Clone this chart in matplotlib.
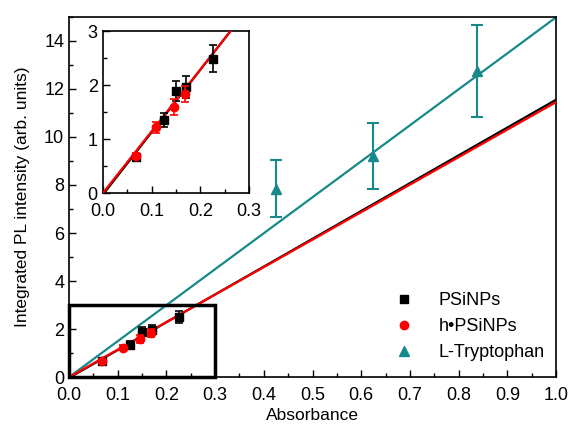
import numpy as np
import matplotlib
matplotlib.use("Agg")
import matplotlib.pyplot as plt
from matplotlib.patches import Rectangle
from matplotlib.ticker import MultipleLocator

plt.rcParams["font.family"] = ["Liberation Sans", "DejaVu Sans"]
plt.rcParams["font.size"] = 12

# PSiNPs (black squares)
psi_x = [0.068, 0.126, 0.150, 0.170, 0.226]
psi_y = [0.68, 1.355, 1.89, 1.97, 2.49]
psi_err = [0.05, 0.13, 0.18, 0.20, 0.25]

# h-PSiNPs (red circles)
hpsi_x = [0.068, 0.110, 0.145, 0.169]
hpsi_y = [0.69, 1.22, 1.59, 1.84]
hpsi_err = [0.05, 0.10, 0.15, 0.15]

# L-Tryptophan (teal triangles)
trp_x = [0.424, 0.625, 0.837]
trp_y = [7.85, 9.20, 12.75]
trp_err = [1.18, 1.38, 1.92]

# linear fits (slope, intercept)
fit_psi = (11.58, -0.03)
fit_hpsi = (11.45, 0.0)
fit_trp = (14.98, 0.0)

teal = "#168a8a"
red = "#ff0000"

fig = plt.figure(figsize=(5.68, 4.32), dpi=100)
ax = fig.add_axes([0.1215, 0.127, 0.8575, 0.834])


def draw(a, xmax, with_trp=True):
    xs = np.array([0.0, xmax])
    a.plot(xs, fit_psi[0] * xs + fit_psi[1], color="black", lw=1.6, zorder=2)
    a.plot(xs, fit_hpsi[0] * xs + fit_hpsi[1], color=red, lw=1.6, zorder=3)
    a.errorbar(psi_x, psi_y, yerr=psi_err, fmt="s", color="black", ms=5.5,
               capsize=3, elinewidth=1.2, capthick=1.2, zorder=4)
    a.errorbar(hpsi_x, hpsi_y, yerr=hpsi_err, fmt="o", color=red, ms=6,
               capsize=3, elinewidth=1.2, capthick=1.2, zorder=5)
    if with_trp:
        a.plot(xs, fit_trp[0] * xs + fit_trp[1], color=teal, lw=1.6, zorder=2)
        a.errorbar(trp_x, trp_y, yerr=trp_err, fmt="^", color=teal, ms=6.5,
                   capsize=4, elinewidth=1.5, capthick=1.5, zorder=4)


def style(a):
    a.tick_params(which="both", direction="in", top=False, right=False,
                  labelsize=13)
    a.tick_params(which="major", length=5, width=1)
    a.tick_params(which="minor", length=3, width=1)
    for s in a.spines.values():
        s.set_linewidth(1.2)


draw(ax, 1.0)
ax.set_xlim(0, 1.0)
ax.set_ylim(0, 15)
ax.xaxis.set_minor_locator(MultipleLocator(0.05))
ax.yaxis.set_major_locator(MultipleLocator(2))
ax.yaxis.set_minor_locator(MultipleLocator(1))
ax.set_xticks(np.arange(0, 1.01, 0.1))
ax.set_xticklabels([f"{v:.1f}" for v in np.arange(0, 1.01, 0.1)])
style(ax)
ax.tick_params(axis="x", pad=7)
ax.set_xlabel("Absorbance", labelpad=3, fontsize=12.5)
ax.set_ylabel("Integrated PL intensity (arb. units)", labelpad=10, fontsize=12.5)
ax.add_patch(Rectangle((0, 0), 0.3, 3.0, fill=False, lw=2.5,
                       edgecolor="black", zorder=6, clip_on=False))

handles = [
    plt.Line2D([], [], ls="", marker="s", color="black", ms=5.5),
    plt.Line2D([], [], ls="", marker="o", color=red, ms=6),
    plt.Line2D([], [], ls="", marker="^", color=teal, ms=6.5),
]
ax.legend(handles, ["PSiNPs", "h\u2022PSiNPs", "L-Tryptophan"],
          loc="lower right", bbox_to_anchor=(1.01, 0.0), frameon=False,
          handletextpad=0.9, labelspacing=0.5, fontsize=13)

ins = fig.add_axes([0.1808, 0.5525, 0.258, 0.3757])
draw(ins, 0.3, with_trp=False)
ins.set_xlim(0, 0.3)
ins.set_ylim(0, 3)
ins.set_xticks([0.0, 0.1, 0.2, 0.3])
ins.set_xticklabels(["0.0", "0.1", "0.2", "0.3"])
ins.xaxis.set_minor_locator(MultipleLocator(0.05))
ins.yaxis.set_major_locator(MultipleLocator(1))
ins.yaxis.set_minor_locator(MultipleLocator(0.5))
style(ins)
ins.tick_params(axis="x", pad=7)

fig.savefig("out.png", dpi=100)
